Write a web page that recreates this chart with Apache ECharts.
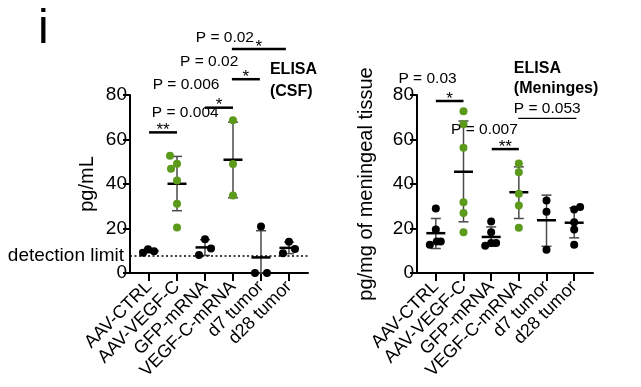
<!DOCTYPE html>
<html><head><meta charset="utf-8">
<script src="https://cdn.jsdelivr.net/npm/echarts@6/dist/echarts.min.js"></script>
<style>html,body{margin:0;padding:0;background:#fff}#c{width:641px;height:387px}</style>
</head><body><div id="c"></div>
<script>
// ---------- DATA ----------
const categories = ['AAV-CTRL','AAV-VEGF-C','GFP-mRNA','VEGF-C-mRNA','d7 tumor','d28 tumor'];
const greenGroups = [1, 3];
const yTicks = [0, 20, 40, 60, 80];

// ELISA (CSF), pg/mL
const csfCtrl      = [9.1, 10.7, 9.8];
const csfAavVegfc  = [52.7, 46.8, 49.1, 41.6, 31.1, 20.4];
const csfGfp       = [8.1, 15.2, 11.0];
const csfVegfcMrna = [68.6, 49.0, 34.8];
const csfD7        = [20.9, 0, 0];
const csfD28       = [14.0, 8.9, 10.8];
const csfMean = [9.9, 40.1, 11.5, 50.9, 7.0, 11.3];
const csfLow  = [9.1, 28.0, 7.9, 33.8, 0, 8.7];
const csfHigh = [10.7, 52.4, 15.0, 67.8, 19.0, 13.9];
const detectionLimit = 7.8;

// ELISA (Meninges), pg/mg of meningeal tissue
const menCtrl      = [29.0, 19.5, 12.7, 14.2, 14.2];
const menAavVegfc  = [72.7, 66.8, 56.3, 31.8, 27.0, 18.3];
const menGfp       = [23.2, 18.3, 12.3, 13.5, 13.5];
const menVegfcMrna = [49.2, 45.3, 35.6, 30.3, 20.3];
const menD7        = [32.6, 27.5, 10.5];
const menD28       = [28.5, 29.7, 22.8, 19.5, 12.7];
const menMean = [17.9, 45.5, 16.2, 36.3, 23.7, 22.6];
const menLow  = [11.0, 23.0, 12.0, 24.5, 12.0, 15.8];
const menHigh = [24.5, 68.3, 20.7, 47.7, 35.0, 29.3];

// significance annotations
const csfBrackets = [[0, 1, 63.2], [2, 3, 74.3], [2.96, 3.96, 87.1], [2.96, 4.89, 100.7]];
const csfStars = ['**', '*', '*', '*'];
const csfPTexts = ['P = 0.004', 'P = 0.006', 'P = 0.02', 'P = 0.02'];
const menBrackets = [[0, 1, 77.3], [2.02, 3, 55.7], [2.98, 5.08, 69.5]];
const menStars = ['*', '**', ''];
const menPTexts = ['P = 0.03', 'P = 0.007', 'P = 0.053'];

// ---------- LAYOUT (not data) ----------
const csfJitter = [[-6,-1,5],[-7,-6,0,0,0,0],[-6,0,6],[0,0,0],[0,-6,6],[0,-6,6]];
const menJitter = [[0,0,-6,1,5],[0,0,0,0,0,0],[0,0,-6,0,5],[0,0,0,0,0],[0,0,0],[0,6,0,0,0]];
const csfPTextPos = [[0.10, 71.9], [0.13, 84.5], [1.11, 95.0], [1.67, 105.9]];
const menPTextPos = [[-1.35, 87.5], [0.55, 64.3], [2.82, 74.0]];
const csfTitlePos = [4.32, 91.2, 81.5];
const menTitlePos = [2.82, 92.0, 83.0];
const bracketWidths = [[2.5,2.5,2.5,2.5],[2.5,2.5,1.2]];

const FONT = '"Liberation Sans", Arial, Helvetica, sans-serif';
const GREEN = '#5b9a1a';

const csfGroups = [csfCtrl, csfAavVegfc, csfGfp, csfVegfcMrna, csfD7, csfD28];
const menGroups = [menCtrl, menAavVegfc, menGfp, menVegfcMrna, menD7, menD28];

function pointData(groups, jitter, pxPerCat) {
  const out = [];
  groups.forEach((vals, g) => {
    vals.forEach((v, i) => {
      out.push({
        value: [g + jitter[g][i] / pxPerCat, v],
        itemStyle: { color: greenGroups.includes(g) ? GREEN : '#000', opacity: 1 }
      });
    });
  });
  return out;
}

function errRender(params, api) {
  const c = api.value(0), lo = api.value(1), hi = api.value(2), m = api.value(3);
  const pLo = api.coord([c, lo]), pHi = api.coord([c, hi]), pM = api.coord([c, m]);
  const gray = { stroke: '#4a4a4a', lineWidth: 1.5 };
  return { type: 'group', children: [
    { type: 'line', shape: { x1: pLo[0], y1: pLo[1], x2: pHi[0], y2: pHi[1] }, style: gray },
    { type: 'line', shape: { x1: pLo[0]-5, y1: pLo[1], x2: pLo[0]+5, y2: pLo[1] }, style: gray },
    { type: 'line', shape: { x1: pHi[0]-5, y1: pHi[1], x2: pHi[0]+5, y2: pHi[1] }, style: gray },
    { type: 'line', shape: { x1: pM[0]-9.5, y1: pM[1], x2: pM[0]+9.5, y2: pM[1] }, style: { stroke: '#000', lineWidth: 2.5 } }
  ]};
}

function bracketRender(stars, widths) {
  return function (params, api) {
    const x1 = api.value(0), x2 = api.value(1), y = api.value(2);
    const a = api.coord([x1, y]), b = api.coord([x2, y]);
    const s = stars[params.dataIndex];
    const children = [
      { type: 'line', shape: { x1: a[0], y1: a[1], x2: b[0], y2: b[1] }, style: { stroke: '#000', lineWidth: widths[params.dataIndex] } }
    ];
    if (s) children.push({ type: 'text', x: (a[0] + b[0]) / 2, y: a[1] - 2,
      style: { text: s, font: '17px ' + FONT, fill: '#000', align: 'center', verticalAlign: 'middle' } });
    return { type: 'group', children };
  };
}

function textRender(texts, pos, title) {
  return function (params, api) {
    const children = [];
    texts.forEach((t, i) => {
      const p = api.coord(pos[i]);
      children.push({ type: 'text', x: p[0], y: p[1],
        style: { text: t, font: '15.5px ' + FONT, fill: '#000', align: 'left', verticalAlign: 'middle' } });
    });
    const p1 = api.coord([title[0], title[1]]), p2 = api.coord([title[0], title[2]]);
    children.push({ type: 'text', x: p1[0], y: p1[1], style: { text: 'ELISA', font: 'bold 16px ' + FONT, fill: '#000', align: 'left', verticalAlign: 'middle' } });
    children.push({ type: 'text', x: p2[0], y: p2[1], style: { text: title.length > 3 ? title[3] : '', font: 'bold 16px ' + FONT, fill: '#000', align: 'left', verticalAlign: 'middle' } });
    return { type: 'group', children };
  };
}

function xAxisCfg(gi) {
  return {
    type: 'value', gridIndex: gi, min: -0.68, max: 5.68,
    splitLine: { show: false },
    axisLine: { show: true, onZero: false, lineStyle: { color: '#000', width: 2 } },
    axisTick: { show: true, customValues: [0,1,2,3,4,5], length: 8, lineStyle: { color: '#000', width: 2 } },
    axisLabel: { customValues: [0,1,2,3,4,5], formatter: v => categories[Math.round(v)], rotate: 45,
      fontSize: 18, color: '#000', fontFamily: FONT, margin: 11 }
  };
}
function yAxisCfg(gi, name, gap) {
  return {
    type: 'value', gridIndex: gi, min: yTicks[0], max: yTicks[yTicks.length-1], interval: yTicks[1] - yTicks[0],
    splitLine: { show: false },
    axisLine: { show: true, onZero: false, lineStyle: { color: '#000', width: 2 } },
    axisTick: { show: true, length: 7, lineStyle: { color: '#000', width: 2 } },
    axisLabel: { fontSize: 19, color: '#000', fontFamily: FONT, margin: 3 },
    name: name, nameLocation: 'middle', nameGap: gap,
    nameTextStyle: { fontSize: 20, color: '#000', fontFamily: FONT }
  };
}

const csfTitle = csfTitlePos.concat(['(CSF)']);
const menTitle = menTitlePos.concat(['(Meninges)']);

const option = {
  animation: false,
  backgroundColor: '#fff',
  grid: [
    { left: 130, top: 95, width: 178, height: 178 },
    { left: 417, top: 95, width: 176, height: 178 }
  ],
  xAxis: [xAxisCfg(0), xAxisCfg(1)],
  yAxis: [yAxisCfg(0, 'pg/mL', 33), yAxisCfg(1, 'pg/mg of meningeal tissue', 41)],
  graphic: [
    { type: 'text', left: 38, top: 6, style: { text: 'i', font: '48px ' + FONT, fill: '#000' } }
  ],
  series: [
    { type: 'custom', xAxisIndex: 0, yAxisIndex: 0, renderItem: errRender, z: 2,
      data: categories.map((c, i) => [i, csfLow[i], csfHigh[i], csfMean[i]]), encode: { x: 0, y: [1,2,3] } },
    { type: 'custom', xAxisIndex: 1, yAxisIndex: 1, renderItem: errRender, z: 2,
      data: categories.map((c, i) => [i, menLow[i], menHigh[i], menMean[i]]), encode: { x: 0, y: [1,2,3] } },
    { type: 'scatter', xAxisIndex: 0, yAxisIndex: 0, symbolSize: 8, z: 3,
      data: pointData(csfGroups, csfJitter, 28),
      markLine: { silent: true, symbol: 'none', animation: false,
        lineStyle: { color: '#000', type: [2, 2.5], width: 1.5 },
        label: { show: true, position: 'start', formatter: 'detection limit', fontSize: 19, color: '#000', fontFamily: FONT, distance: 6 },
        data: [{ yAxis: detectionLimit }] } },
    { type: 'scatter', xAxisIndex: 1, yAxisIndex: 1, symbolSize: 8, z: 3,
      data: pointData(menGroups, menJitter, 27.8) },
    { type: 'custom', xAxisIndex: 0, yAxisIndex: 0, renderItem: bracketRender(csfStars, bracketWidths[0]), z: 4,
      data: csfBrackets, encode: { x: [0,1], y: 2 } },
    { type: 'custom', xAxisIndex: 1, yAxisIndex: 1, renderItem: bracketRender(menStars, bracketWidths[1]), z: 4,
      data: menBrackets, encode: { x: [0,1], y: 2 } },
    { type: 'custom', xAxisIndex: 0, yAxisIndex: 0, renderItem: textRender(csfPTexts, csfPTextPos, csfTitle), z: 4,
      data: [[0, 0]] },
    { type: 'custom', xAxisIndex: 1, yAxisIndex: 1, renderItem: textRender(menPTexts, menPTextPos, menTitle), z: 4,
      data: [[0, 0]] }
  ]
};

const chart = echarts.init(document.getElementById('c'), null, { renderer: 'canvas' });
chart.setOption(option);
</script>
</body></html>
